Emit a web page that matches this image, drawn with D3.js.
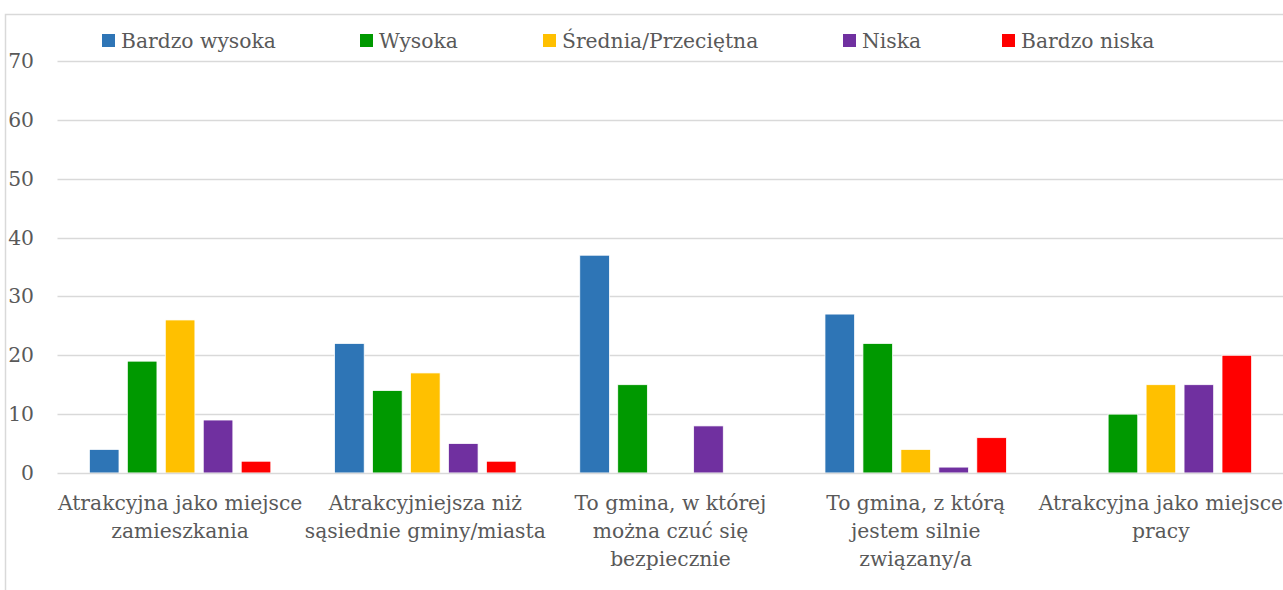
<!DOCTYPE html>
<html>
<head>
<meta charset="utf-8">
<script src="https://cdn.jsdelivr.net/npm/d3@7"></script>
<style>
  html, body { margin: 0; padding: 0; background: #fff; }
  svg { display: block; }
  text { font-family: "DejaVu Serif", serif; fill: #595959; }
</style>
</head>
<body>
<svg id="chart" width="1283" height="590"></svg>
<script>
// Survey categories (label lines as shown under each group)
const categories = [
  ["Atrakcyjna jako miejsce", "zamieszkania"],
  ["Atrakcyjniejsza niż", "sąsiednie gminy/miasta"],
  ["To gmina, w której", "można czuć się", "bezpiecznie"],
  ["To gmina, z którą", "jestem silnie", "związany/a"],
  ["Atrakcyjna jako miejsce", "pracy"]
];

const seriesNames = ["Bardzo wysoka", "Wysoka", "Średnia/Przeciętna", "Niska", "Bardzo niska"];
const seriesColors = ["#2E75B6", "#009900", "#FFC000", "#7030A0", "#FF0000"];

// Values per series, one entry per category
const bardzoWysoka = [4, 22, 37, 27, 0];
const wysoka       = [19, 14, 15, 22, 10];
const srednia      = [26, 17, 0, 4, 15];
const niska        = [9, 5, 8, 1, 15];
const bardzoNiska  = [2, 2, 0, 6, 20];
const seriesValues = [bardzoWysoka, wysoka, srednia, niska, bardzoNiska];

const yTicks = [0, 10, 20, 30, 40, 50, 60, 70];

const FONT_SIZE = 20.3;
const svg = d3.select("#chart");
const W = 1283, H = 590;
const plot = { left: 57.5, right: 1283, top: 61, bottom: 473 };

// Outer chart frame
svg.append("rect")
  .attr("x", 5.5).attr("y", 14.5)
  .attr("width", W + 20).attr("height", H + 20)
  .attr("fill", "none").attr("stroke", "#d9d9d9").attr("stroke-width", 1.5);

const y = d3.scaleLinear().domain([0, 70]).range([plot.bottom, plot.top]);
const x0 = d3.scaleBand().domain(d3.range(categories.length))
  .range([plot.left, plot.right + 0.5]).padding(0);
const bw = x0.bandwidth();
const x1 = d3.scaleBand().domain(d3.range(seriesNames.length))
  .range([bw * 0.13, bw * 0.87]).paddingInner(0.22);

// Gridlines
svg.append("g").selectAll("line")
  .data(yTicks.filter(d => d > 0))
  .join("line")
  .attr("x1", plot.left).attr("x2", plot.right)
  .attr("y1", d => Math.round(y(d)) + 0.5).attr("y2", d => Math.round(y(d)) + 0.5)
  .attr("stroke", "#d9d9d9").attr("stroke-width", 1.5);

// Y axis labels
const yAxis = d3.axisLeft(y).tickValues(yTicks).tickSize(0).tickPadding(0);
const yg = svg.append("g").attr("transform", `translate(34,0)`).call(yAxis);
yg.select(".domain").remove();
yg.selectAll("text")
  .attr("font-family", "DejaVu Serif, serif")
  .attr("font-size", FONT_SIZE).attr("fill", "#595959");

// Bars
const groups = svg.append("g").selectAll("g")
  .data(categories.map((c, i) => i))
  .join("g")
  .attr("transform", i => `translate(${x0(i)},0)`);

groups.selectAll("rect")
  .data(i => seriesValues.map((vals, s) => ({ s, v: vals[i] })))
  .join("rect")
  .filter(d => d.v > 0)
  .attr("x", d => x1(d.s))
  .attr("width", x1.bandwidth())
  .attr("y", d => y(d.v))
  .attr("height", d => y(0) - y(d.v))
  .attr("fill", d => seriesColors[d.s])
  .attr("stroke", "#fff").attr("stroke-width", 0.75);

// Baseline
svg.append("line")
  .attr("x1", plot.left).attr("x2", plot.right)
  .attr("y1", plot.bottom + 0.5).attr("y2", plot.bottom + 0.5)
  .attr("stroke", "#d9d9d9").attr("stroke-width", 1.5);

// Category labels
svg.append("g").selectAll("text")
  .data(categories.map((c, i) => ({ lines: c, i })))
  .join("text")
  .attr("text-anchor", "middle")
  .attr("font-size", FONT_SIZE)
  .attr("x", d => x0(d.i) + bw / 2)
  .attr("y", 510)
  .selectAll("tspan")
  .data(d => d.lines.map((l, k) => ({ l, k, cx: x0(d.i) + bw / 2 })))
  .join("tspan")
  .attr("x", d => d.cx)
  .attr("dy", d => d.k === 0 ? 0 : 28)
  .text(d => d.l);

// Legend
const legendX = [102, 360, 543, 843, 1002];
const legend = svg.append("g").selectAll("g")
  .data(seriesNames.map((n, i) => ({ n, i })))
  .join("g")
  .attr("transform", d => `translate(${legendX[d.i]},34)`);
legend.append("rect")
  .attr("width", 13).attr("height", 13)
  .attr("fill", d => seriesColors[d.i]);
legend.append("text")
  .attr("x", 19).attr("y", 14)
  .attr("font-size", FONT_SIZE)
  .text(d => d.n);
</script>
</body>
</html>
